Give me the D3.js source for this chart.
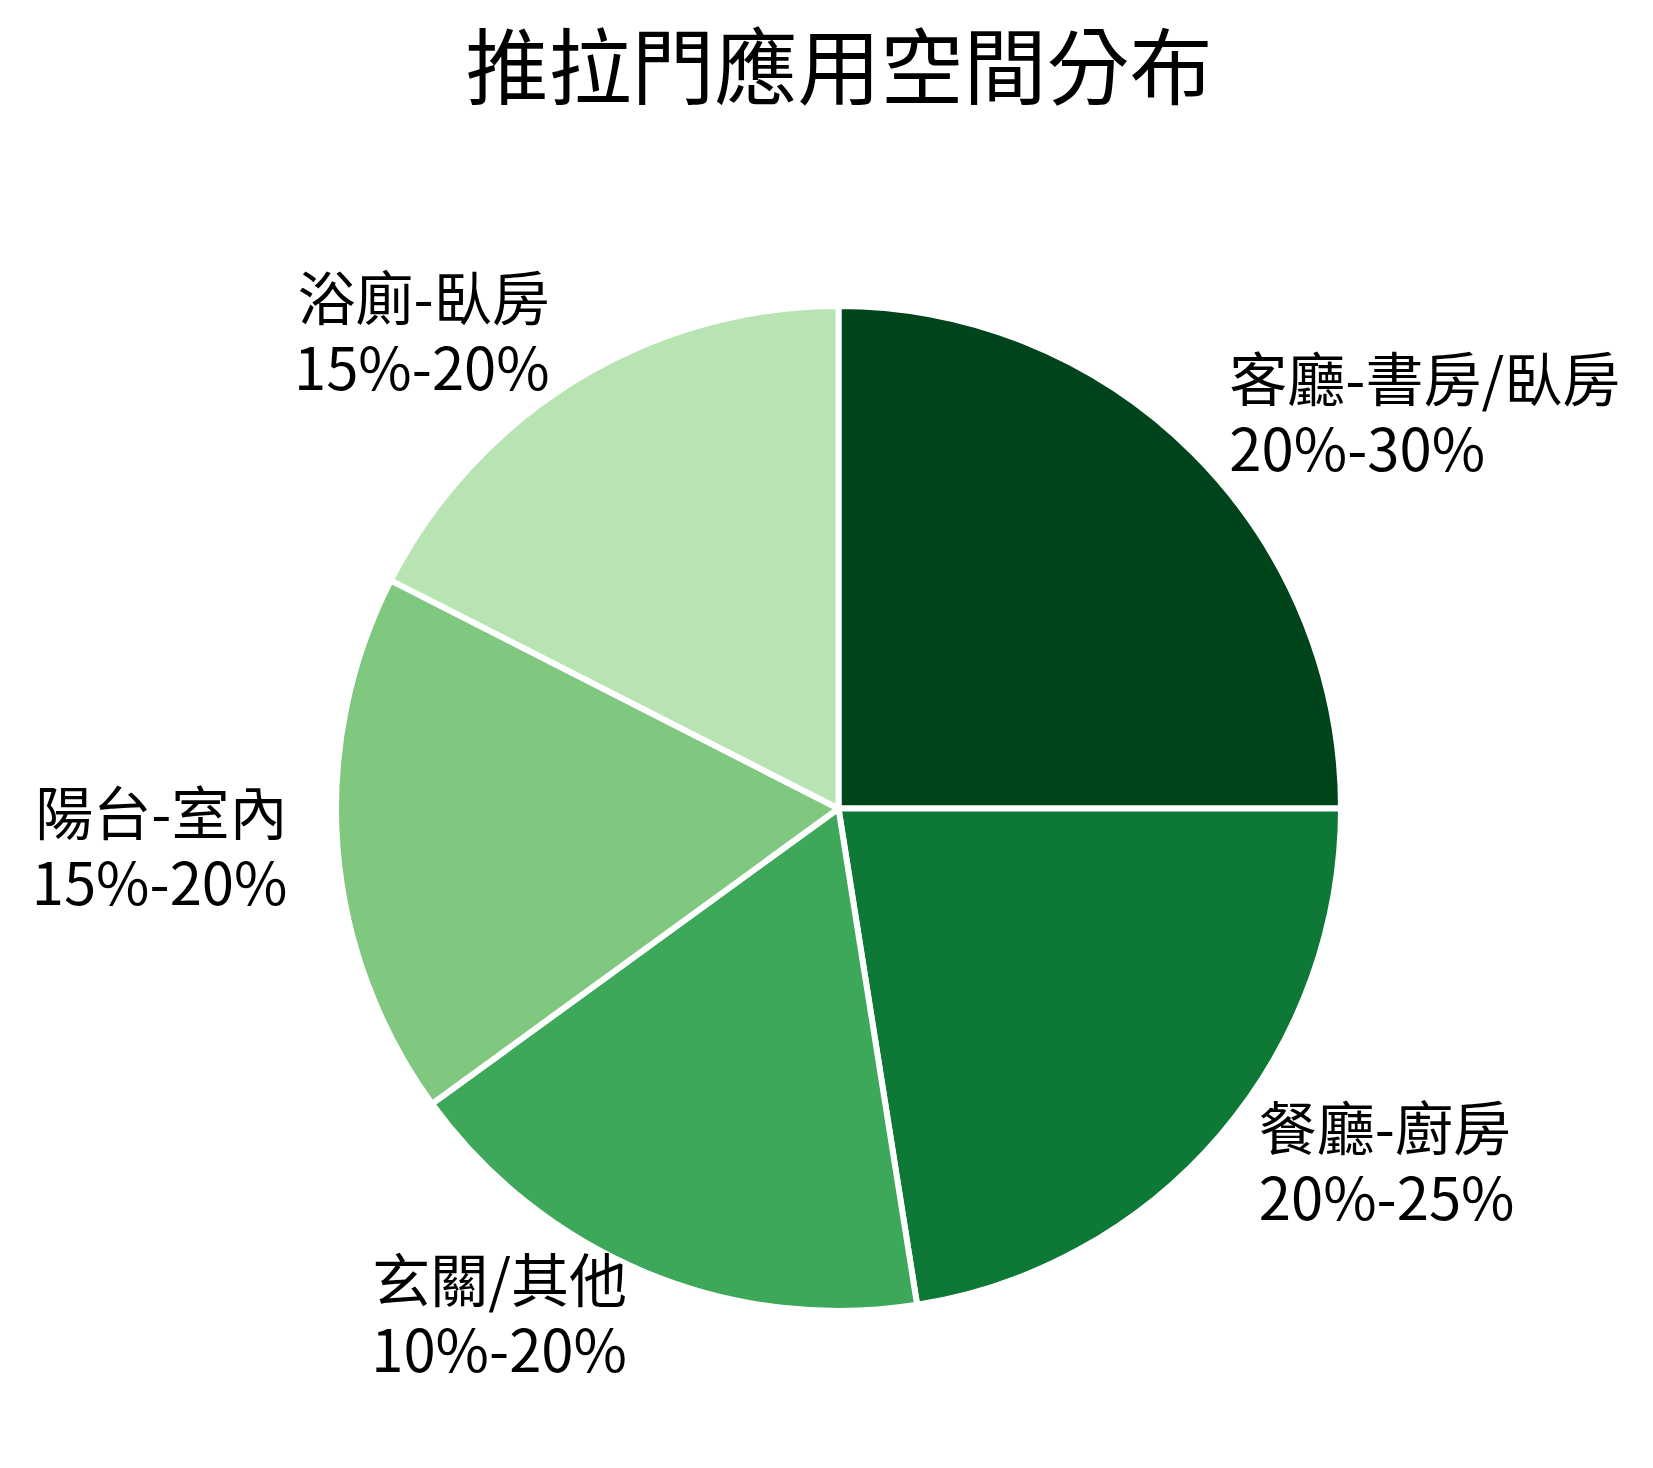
<!DOCTYPE html>
<html>
<head>
<meta charset="utf-8">
<script src="https://cdn.jsdelivr.net/npm/d3@7"></script>
<style>
  html, body { margin: 0; padding: 0; background: #ffffff; }
  svg { display: block; }
  text { font-family: "Noto Sans CJK TC", "Noto Sans CJK SC", "Noto Sans", sans-serif; fill: #000; }
</style>
</head>
<body>
<svg id="chart" width="1653" height="1468"></svg>
<script>
const title = "推拉門應用空間分布";
const categories = ["客廳-書房/臥房", "餐廳-廚房", "玄關/其他", "陽台-室內", "浴廁-臥房"];
const rangeLabels = ["20%-30%", "20%-25%", "10%-20%", "15%-20%", "15%-20%"];
const values = [25, 22.5, 17.5, 17.5, 17.5];
const colors = ["#00441b", "#0e7936", "#3da75a", "#80c780", "#b8e3b2"];

const W = 1653, H = 1468;
const cx = 838.5, cy = 808.5, R = 502.5;
const labelDist = 1.1;

const svg = d3.select("#chart");
svg.append("rect").attr("width", W).attr("height", H).attr("fill", "#fff");

svg.append("text")
  .attr("x", 839).attr("y", 98)
  .attr("text-anchor", "middle")
  .attr("font-size", 83)
  .text(title);

const data = categories.map((c, i) => ({ cat: c, range: rangeLabels[i], value: values[i], color: colors[i] }));

const pie = d3.pie().sort(null).value(d => d.value).startAngle(0).endAngle(2 * Math.PI);
const arc = d3.arc().innerRadius(0).outerRadius(R);
const arcs = pie(data);

const g = svg.append("g").attr("transform", `translate(${cx},${cy})`);
g.selectAll("path.slice").data(arcs).enter().append("path")
  .attr("class", "slice")
  .attr("d", arc)
  .attr("fill", d => d.data.color)
  .attr("stroke", "#fff")
  .attr("stroke-width", 6)
  .attr("stroke-linejoin", "round");

const lab = g.selectAll("text.lab").data(arcs).enter().append("text")
  .attr("class", "lab")
  .attr("font-size", 58)
  .attr("text-anchor", d => {
    const a = (d.startAngle + d.endAngle) / 2;
    return Math.sin(a) > 0 ? "start" : "end";
  })
  .attr("transform", d => {
    const a = (d.startAngle + d.endAngle) / 2;
    const x = Math.sin(a) * R * labelDist;
    const y = -Math.cos(a) * R * labelDist;
    return `translate(${x},${y})`;
  });
lab.append("tspan").attr("x", 0).attr("y", -17).text(d => d.data.cat);
lab.append("tspan").attr("x", 0).attr("y", 53).text(d => d.data.range);
</script>
</body>
</html>
